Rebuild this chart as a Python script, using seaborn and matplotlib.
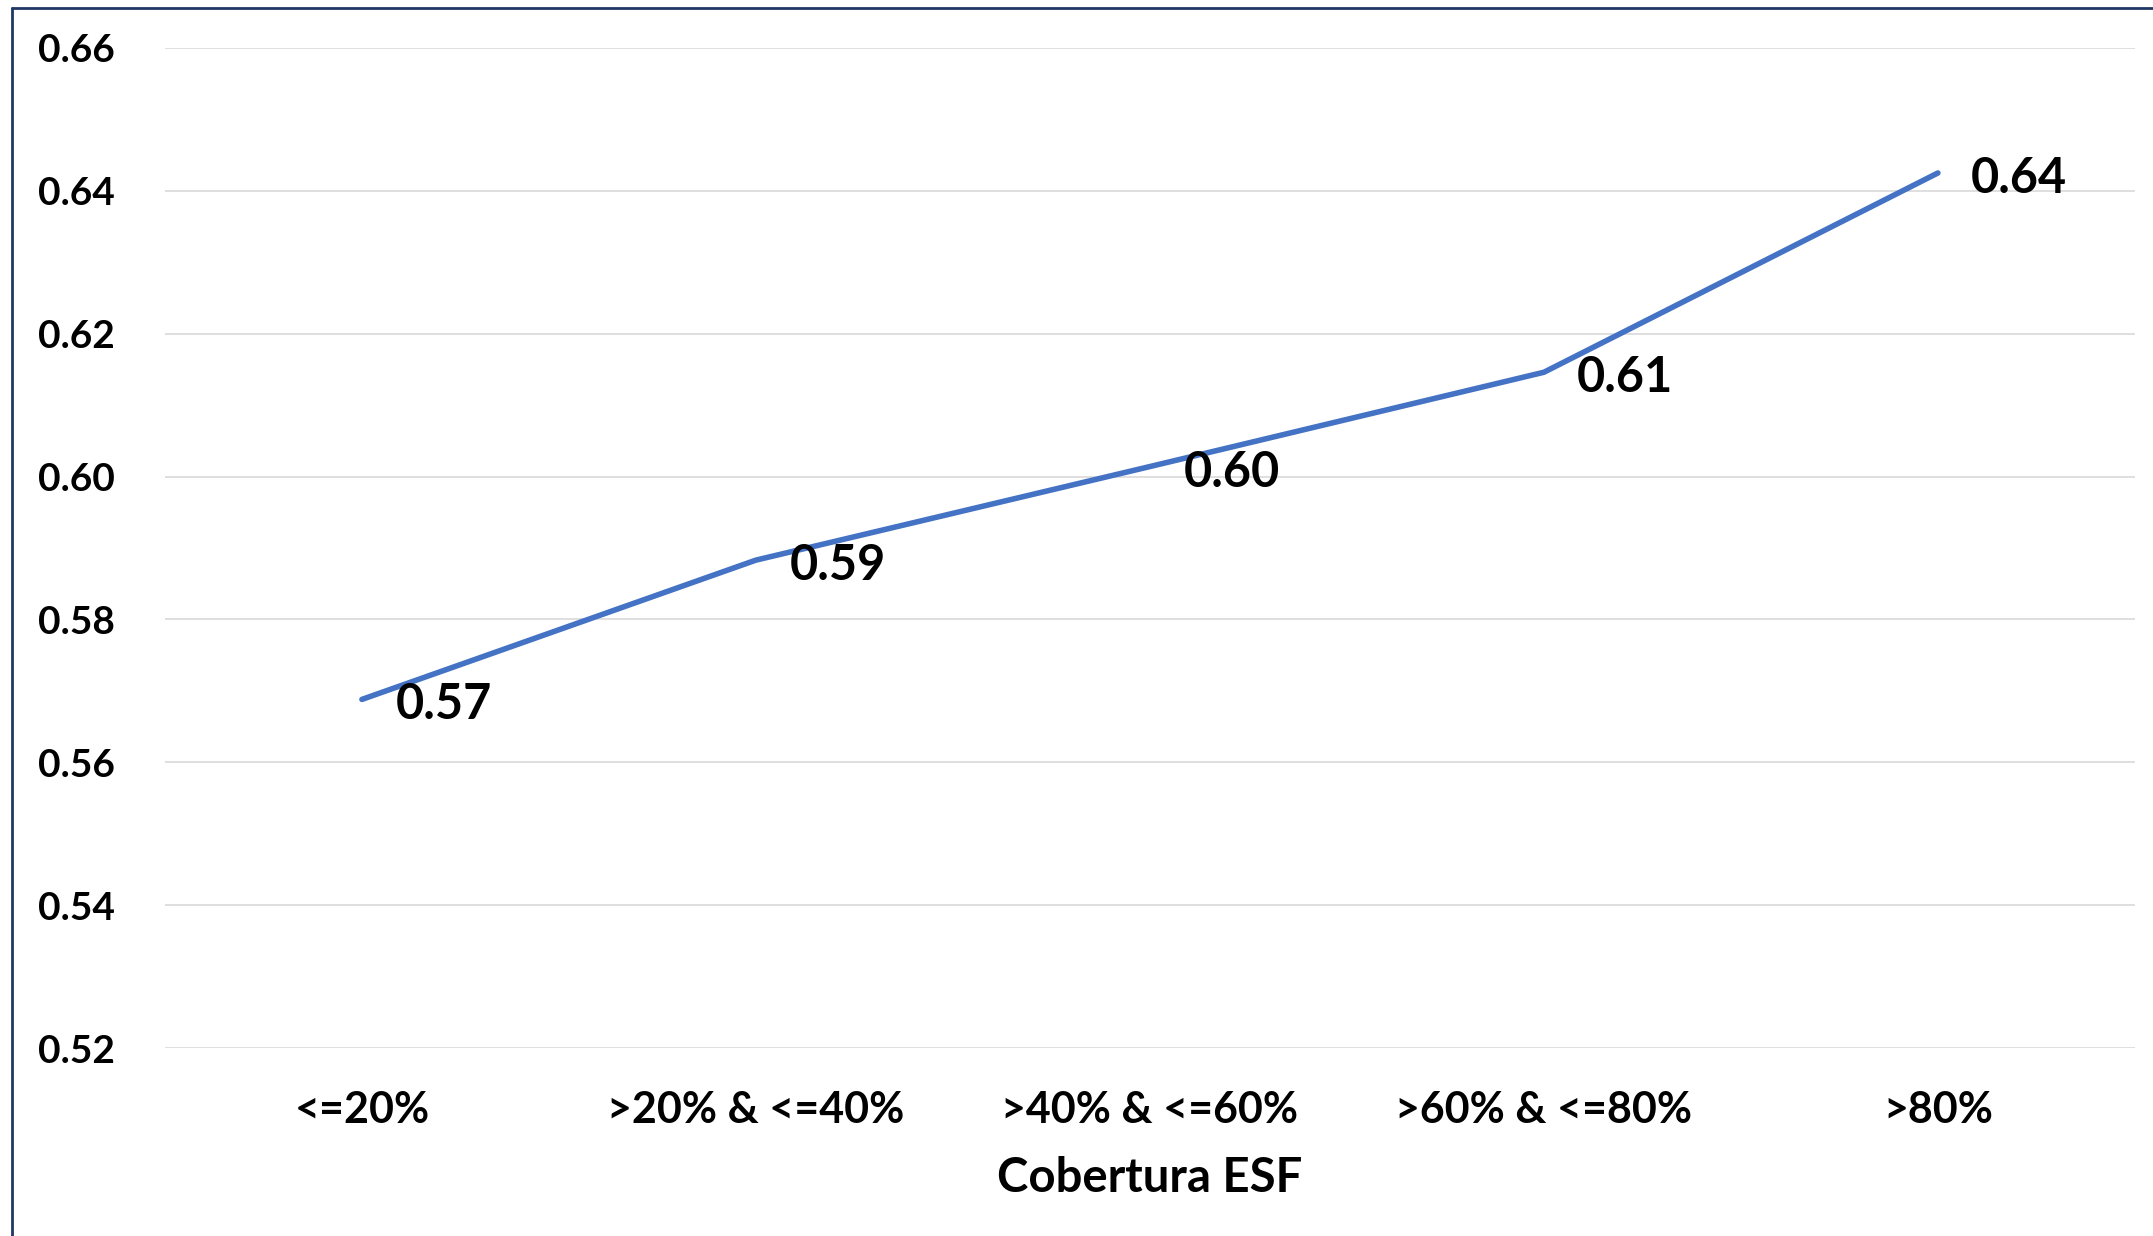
import matplotlib
matplotlib.use("Agg")
import matplotlib.pyplot as plt
from matplotlib.lines import Line2D
import seaborn as sns
import pandas as pd

# Coverage bands of the family health strategy (ESF) and the mean index in each band
categories = ["<=20%", ">20% & <=40%", ">40% & <=60%", ">60% & <=80%", ">80%"]
values = [0.5688, 0.5883, 0.6014, 0.6146, 0.6425]
y_ticks = [0.52, 0.54, 0.56, 0.58, 0.60, 0.62, 0.64, 0.66]
x_title = "Cobertura ESF"

df = pd.DataFrame({"cobertura": categories, "valor": values})

sns.set_theme(style="white")
plt.rcParams["font.family"] = ["Lato", "DejaVu Sans"]
plt.rcParams["font.weight"] = "bold"

fig = plt.figure(figsize=(21.53, 12.36), dpi=100)
ax = fig.add_axes([0.0766, 0.1521, 0.9150, 0.8091])

sns.lineplot(data=df, x="cobertura", y="valor", ax=ax, sort=False,
             color="#4472C4", lw=4.0, solid_capstyle="round")

ax.set_xlim(-0.5, len(categories) - 0.5)
ax.set_ylim(y_ticks[0], y_ticks[-1])
ax.set_yticks(y_ticks)
ax.set_yticklabels([f"{t:.2f}" for t in y_ticks])
ax.yaxis.grid(True, color="#D9D9D9", linewidth=1.2)
ax.set_axisbelow(True)
for s in ax.spines.values():
    s.set_visible(False)

ax.tick_params(axis="y", length=0, pad=36, labelsize=28, labelcolor="black")
ax.tick_params(axis="x", length=0, pad=30, labelsize=31, labelcolor="black")
for lbl in ax.get_xticklabels() + ax.get_yticklabels():
    lbl.set_fontweight("bold")

ax.set_ylabel("")
ax.set_xlabel(x_title, fontsize=34, fontweight="bold", color="black")
ax.xaxis.set_label_coords(0.5, -0.130)
ax.xaxis.label.set_verticalalignment("center")

# value labels to the right of each point
for i, v in enumerate(values):
    ax.annotate(f"{v:.2f}", xy=(i, v), xytext=(24, -4), textcoords="offset points",
                ha="left", va="center", fontsize=35, fontweight="bold", color="black")

# thin frame along the top and left edges
frame_color = "#203864"
fig.add_artist(Line2D([0.0056, 1.0], [0.9935, 0.9935], transform=fig.transFigure,
                      color=frame_color, linewidth=2.0))
fig.add_artist(Line2D([0.0056, 0.0056], [0.0, 0.9935], transform=fig.transFigure,
                      color=frame_color, linewidth=2.0))

fig.savefig("out.png", dpi=100, facecolor="white")
